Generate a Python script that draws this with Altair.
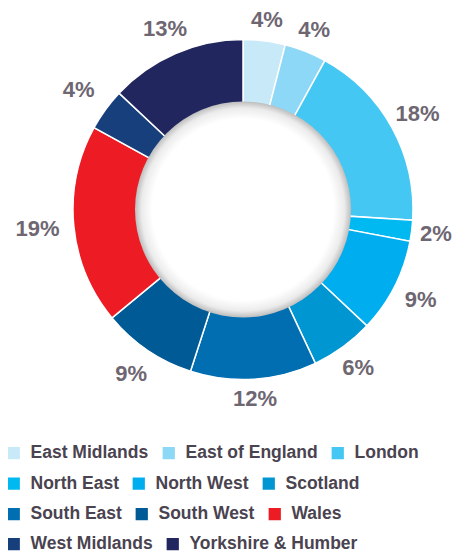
import math
import altair as alt
import pandas as pd

regions = ["East Midlands", "East of England", "London", "North East", "North West",
           "Scotland", "South East", "South West", "Wales", "West Midlands",
           "Yorkshire & Humber"]
shares = [4, 4, 18, 2, 9, 6, 12, 9, 19, 4, 13]
colors = ["#c7e9f8", "#8dd8f6", "#45c7f3", "#00b9f1", "#00aeef", "#0096d2",
          "#006eb0", "#005a96", "#ed1c24", "#163f7c", "#21265e"]

df = pd.DataFrame({"region": regions, "share": shares, "idx": list(range(len(regions)))})

W, H = 446, 543
CX, CY = 235, 201.5
R_OUT, R_IN = 170, 106

arcs = alt.Chart(df).mark_arc(outerRadius=R_OUT, innerRadius=R_IN, stroke="white", strokeWidth=1.5).encode(
    theta=alt.Theta("share:Q", stack=True),
    order=alt.Order("idx:Q", sort="ascending"),
    color=alt.Color("region:N", scale=alt.Scale(domain=regions, range=colors), legend=None),
    x=alt.value(CX), y=alt.value(CY),
)

# keep labels inside the view on the right-hand side
right_room = W - CX - 18
labels = alt.Chart(df).transform_window(
    cum="sum(share)", sort=[alt.SortField("idx")], frame=[None, 0]
).transform_joinaggregate(
    total="sum(share)"
).transform_calculate(
    mid="(datum.cum - datum.share / 2) / datum.total * 2 * PI",
    rr="189.5 + 14 * abs(sin(datum.mid)) - 3 * sin(datum.mid)",
).transform_calculate(
    r=f"sin(datum.mid) > 0 ? min(datum.rr, {right_room} / sin(datum.mid)) : datum.rr",
    label="datum.share + '%'",
).mark_text(
    fontSize=22, fontWeight="bold", font="Liberation Sans", color="#6e6772",
    align="center", baseline="middle",
).encode(
    text="label:N",
    theta=alt.Theta("mid:Q", scale=None),
    radius=alt.Radius("r:Q", scale=None),
    x=alt.value(CX), y=alt.value(CY),
)

hole = alt.Chart(pd.DataFrame({"k": [0]})).mark_arc(
    theta=0, theta2=2 * math.pi, outerRadius=108, innerRadius=0,
    fill=alt.Gradient(
        gradient="radial", x1=0.5, y1=0.5, r1=0, x2=0.5, y2=0.5, r2=0.5,
        stops=[
            alt.GradientStop(offset=0, color="#ffffff"),
            alt.GradientStop(offset=0.84, color="#ffffff"),
            alt.GradientStop(offset=0.94, color="#ebebeb"),
            alt.GradientStop(offset=1, color="#bdbdbd"),
        ],
    ),
).encode(x=alt.value(CX), y=alt.value(CY))

# legend split into rows so that entries flow naturally in each row
row_slices = [(0, 3), (3, 6), (6, 9), (9, 11)]
row_tops = [436, 466.5, 497, 527]
legend_layers = []
for (a, b), top in zip(row_slices, row_tops):
    row_regions = regions[a:b]
    row_colors = colors[a:b]
    lg = alt.Legend(
        title=None, orient="none", legendX=-3, legendY=top, direction="horizontal",
        columns=3, symbolType="square", symbolSize=150, symbolStrokeWidth=0,
        labelFontSize=17.5, labelFont="Liberation Sans", labelFontWeight="bold",
        labelColor="#4a4350", labelOffset=8, columnPadding=11, labelLimit=300,
    )
    legend_layers.append(
        alt.Chart(df).transform_filter(
            alt.FieldOneOfPredicate(field="region", oneOf=row_regions)
        ).mark_arc(outerRadius=0, innerRadius=0).encode(
            theta=alt.Theta("share:Q"),
            color=alt.Color("region:N", scale=alt.Scale(domain=row_regions, range=row_colors), legend=lg),
            x=alt.value(CX), y=alt.value(CY),
        )
    )

chart = alt.layer(arcs, hole, labels, *legend_layers).resolve_scale(
    color="independent", theta="independent", radius="independent"
).properties(
    width=W, height=H, autosize=alt.AutoSizeParams(type="none"), padding=0,
).configure_view(stroke=None)

chart.save("out.html", embed_options={"renderer": "svg", "actions": False})
